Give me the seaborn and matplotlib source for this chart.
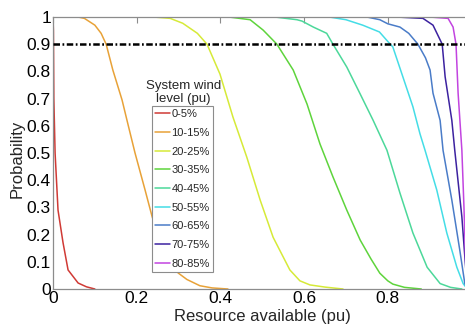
import numpy as np
import pandas as pd
import matplotlib
matplotlib.use("Agg")
import matplotlib.pyplot as plt
import seaborn as sns

# ---- data (x = resource available, y = probability) ----
labels = ["0-5%", "10-15%", "20-25%", "30-35%", "40-45%",
          "50-55%", "60-65%", "70-75%", "80-85%"]
colors = ["#d03a35", "#e8a238", "#d6ea38", "#5ed43c", "#4cd89a",
          "#44dde6", "#4a7cc8", "#3c22a0", "#c244e0"]

x_0_5 = [0.0, 0.001, 0.002, 0.005, 0.012, 0.024, 0.036, 0.06, 0.08, 0.10]
y_0_5 = [1.0, 0.95, 0.70, 0.50, 0.29, 0.17, 0.07, 0.022, 0.008, 0.0]

x_10_15 = [0.06, 0.075, 0.10, 0.115, 0.127, 0.143, 0.165, 0.18, 0.196, 0.22,
           0.237, 0.26, 0.28, 0.299, 0.32, 0.351, 0.38, 0.418]
y_10_15 = [1.0, 0.995, 0.97, 0.94, 0.90, 0.805, 0.695, 0.60, 0.50, 0.364,
           0.265, 0.16, 0.10, 0.059, 0.035, 0.012, 0.004, 0.0]

x_20_25 = [0.24, 0.28, 0.31, 0.345, 0.368, 0.399, 0.43, 0.463, 0.495, 0.526,
           0.566, 0.59, 0.614, 0.65, 0.693]
y_20_25 = [1.0, 0.995, 0.977, 0.94, 0.90, 0.79, 0.632, 0.485, 0.327, 0.19,
           0.07, 0.03, 0.015, 0.007, 0.0]

x_30_35 = [0.42, 0.471, 0.502, 0.535, 0.574, 0.607, 0.638, 0.669, 0.702, 0.734,
           0.76, 0.781, 0.80, 0.812, 0.84, 0.88]
y_30_35 = [1.0, 0.99, 0.952, 0.90, 0.805, 0.68, 0.533, 0.412, 0.29, 0.18,
           0.11, 0.058, 0.03, 0.018, 0.006, 0.0]

x_40_45 = [0.53, 0.583, 0.595, 0.622, 0.654, 0.669, 0.702, 0.734, 0.765, 0.798,
           0.829, 0.86, 0.894, 0.925, 0.95, 0.977]
y_40_45 = [1.0, 0.99, 0.985, 0.963, 0.94, 0.90, 0.816, 0.717, 0.62, 0.51,
           0.353, 0.206, 0.08, 0.02, 0.006, 0.0]

x_50_55 = [0.66, 0.70, 0.74, 0.78, 0.80, 0.812, 0.836, 0.86, 0.877, 0.889,
           0.917, 0.941, 0.965, 0.98, 0.99]
y_50_55 = [1.0, 0.99, 0.97, 0.945, 0.91, 0.89, 0.78, 0.67, 0.57, 0.51,
           0.364, 0.206, 0.08, 0.02, 0.0]

x_60_65 = [0.75, 0.781, 0.80, 0.829, 0.85, 0.872, 0.89, 0.901, 0.908, 0.925,
           0.932, 0.953, 0.972, 0.984, 0.99]
y_60_65 = [1.0, 0.99, 0.975, 0.963, 0.94, 0.90, 0.85, 0.805, 0.72, 0.62,
           0.51, 0.327, 0.143, 0.02, 0.0]

x_70_75 = [0.82, 0.884, 0.908, 0.93, 0.937, 0.953, 0.96, 0.977, 0.985, 0.99]
y_70_75 = [1.0, 0.995, 0.97, 0.90, 0.78, 0.62, 0.51, 0.265, 0.10, 0.0]

x_80_85 = [0.90, 0.944, 0.956, 0.963, 0.968, 0.977, 0.982, 0.986, 0.99]
y_80_85 = [1.0, 0.995, 0.963, 0.90, 0.72, 0.51, 0.30, 0.10, 0.0]

xs = [x_0_5, x_10_15, x_20_25, x_30_35, x_40_45, x_50_55, x_60_65, x_70_75, x_80_85]
ys = [y_0_5, y_10_15, y_20_25, y_30_35, y_40_45, y_50_55, y_60_65, y_70_75, y_80_85]

threshold = 0.9
x_ticks = [0, 0.2, 0.4, 0.6, 0.8]
x_ticklabels = ["0", "0.2", "0.4", "0.6", "0.8"]
y_ticks = [0, 0.1, 0.2, 0.3, 0.4, 0.5, 0.6, 0.7, 0.8, 0.9, 1.0]
y_ticklabels = ["0", "0.1", "0.2", "0.3", "0.4", "0.5", "0.6", "0.7", "0.8", "0.9", "1"]

frames = []
for lab, xv, yv in zip(labels, xs, ys):
    frames.append(pd.DataFrame({"x": xv, "y": yv, "level": lab}))
df = pd.concat(frames, ignore_index=True)

# ---- styling ----
sns.set_theme(style="white")
plt.rcParams["font.family"] = ["Liberation Sans", "DejaVu Sans"]

fig = plt.figure(figsize=(4.65, 3.26), dpi=100)
ax = fig.add_axes([53 / 465, 37 / 326, 418.5 / 465, 272 / 326])

sns.lineplot(data=df, x="x", y="y", hue="level", palette=dict(zip(labels, colors)),
             hue_order=labels, estimator=None, sort=False, units="level",
             linewidth=1.1, ax=ax, legend=False)

ax.axhline(threshold, color="black", linewidth=1.8, linestyle=(0, (2.6, 1.0, 0.7, 1.0)),
           zorder=5)

ax.set_xlim(0, 1)
ax.set_ylim(0, 1)
ax.set_xticks(x_ticks)
ax.set_xticklabels(x_ticklabels)
ax.set_yticks(y_ticks)
ax.set_yticklabels(y_ticklabels)

for s in ax.spines.values():
    s.set_color("#8c8c8c")
    s.set_linewidth(0.9)
ax.tick_params(axis="both", direction="in", length=4, width=0.8, color="#8c8c8c",
               labelsize=12.5, labelcolor="black", top=True, right=True)
ax.tick_params(axis="x", pad=1.5)
ax.tick_params(axis="y", pad=1.5)

ax.set_xlabel("Resource available (pu)", fontsize=12)
ax.set_ylabel("Probability", fontsize=12)
ax.xaxis.set_label_coords(0.5, -0.072)
ax.yaxis.set_label_coords(-0.068, 0.48)

handles = [plt.Line2D([], [], color=c, linewidth=1.1) for c in colors]
leg = ax.legend(handles, labels, loc="upper left", bbox_to_anchor=(0.2366, 0.673),
                borderaxespad=0, fontsize=8, frameon=True, fancybox=False,
                framealpha=1, edgecolor="#8c8c8c", borderpad=0.3, labelspacing=0.78,
                handlelength=1.3, handletextpad=0.15)
leg.get_frame().set_linewidth(0.8)
ax.text(0.311, 0.677, "System wind\nlevel (pu)", transform=ax.transAxes,
        ha="center", va="bottom", fontsize=9.5, linespacing=1.05)

fig.savefig("out.png", dpi=100)
